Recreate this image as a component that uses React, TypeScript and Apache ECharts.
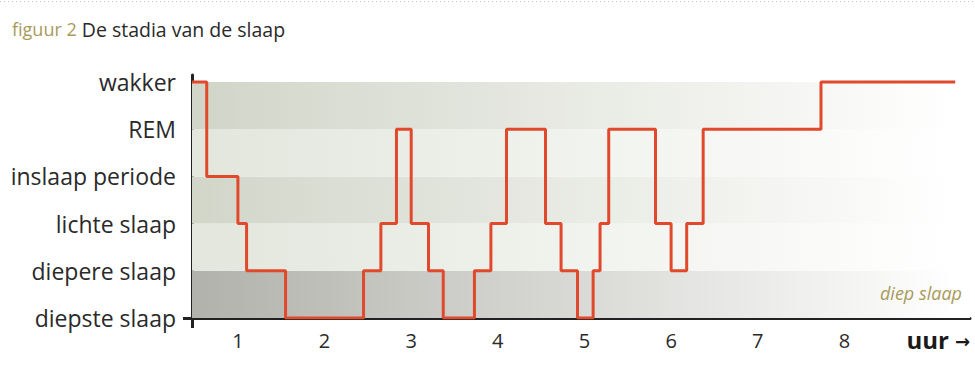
import React, { useEffect, useRef } from "react";
import * as echarts from "echarts";

// Sleep stages (0 = diepste slaap ... 5 = wakker)
const stageNames = ["diepste slaap", "diepere slaap", "lichte slaap", "inslaap periode", "REM", "wakker"];
const stageTicks = [0, 1, 2, 3, 4, 5];
const hourTicks = [1, 2, 3, 4, 5, 6, 7, 8];

// Step line: time (hours) at which each stage begins
const hours = [0.47, 0.64, 1.0, 1.1, 1.55, 2.45, 2.65, 2.83, 3.0, 3.2, 3.37, 3.73, 3.92, 4.1, 4.55, 4.73, 4.92, 5.1, 5.18, 5.28, 5.82, 6.0, 6.18, 6.37, 7.73, 9.28];
const stages = [5, 3, 2, 1, 0, 1, 2, 4, 2, 1, 0, 1, 2, 4, 2, 1, 0, 1, 2, 4, 2, 1, 2, 4, 5, 5];

// Background bands (bottom to top)
const bandColors = ["#b2b2ac", "#e2e6dc", "#d2d6c9", "#e2e6dc", "#d1d5c8"];

const xMin = 0.47;
const xMax = 9.45;
const yMax = 5.148;

const FONT = "Open Sans";

export default function App() {
  const ref = useRef<HTMLDivElement>(null);
  useEffect(() => {
    if (!ref.current) return;
    const chart = echarts.init(ref.current, null, { renderer: "svg" });
    const data = hours.map((h, i) => [h, stages[i]]);
    const bands = bandColors.map((c, i) => [
      {
        yAxis: i,
        xAxis: xMin,
        itemStyle: {
          color: {
            type: "linear",
            x: 0,
            y: 0,
            x2: 1,
            y2: 0,
            colorStops: [
              { offset: 0, color: c },
              { offset: 0.985, color: "#ffffff" },
              { offset: 1, color: "#ffffff" },
            ],
          },
        },
      },
      { yAxis: i + 1, xAxis: xMax },
    ]);
    chart.setOption({
      animation: false,
      backgroundColor: "#ffffff",
      title: {
        left: 7,
        top: 14,
        text: "{a|figuur 2} {b|De stadia van de slaap}",
        textStyle: {
          rich: {
            a: { fontFamily: FONT, fontSize: 18, fontWeight: "normal", color: "#a89a5a" },
            b: { fontFamily: FONT, fontSize: 19.5, fontWeight: "normal", color: "#2a2a2a" },
          },
        },
      },
      graphic: [
        {
          type: "line",
          z: 100,
          shape: { x1: 0, y1: 1.5, x2: 975, y2: 1.5 },
          style: { stroke: "#c8c8c8", lineWidth: 1, lineDash: [1, 3] },
        },
        {
          type: "text",
          z: 100,
          right: 13,
          top: 284,
          style: {
            text: "diep slaap",
            fontFamily: FONT,
            fontStyle: "italic",
            fontSize: 18,
            fill: "#a89a5a",
          },
        },
        {
          type: "text",
          z: 100,
          right: 26,
          top: 327,
          style: {
            text: "uur",
            fontFamily: FONT,
            fontWeight: "bold",
            fontSize: 24,
            fill: "#1a1a1a",
          },
        },
        {
          type: "text",
          z: 100,
          right: 5,
          top: 332,
          style: {
            text: "→",
            fontFamily: "DejaVu Sans",
            fontWeight: "bold",
            fontSize: 18,
            fill: "#1a1a1a",
          },
        },
      ],
      grid: { left: 192, right: 5, top: 75, bottom: 51, containLabel: false },
      xAxis: {
        type: "value",
        min: xMin,
        max: xMax,
        axisLine: { show: true, onZero: false, lineStyle: { color: "#222222", width: 3 } },
        axisTick: { show: true, customValues: [xMin], length: 10, lineStyle: { color: "#222222", width: 3 } },
        axisLabel: {
          customValues: hourTicks,
          fontFamily: FONT,
          fontSize: 20,
          color: "#2a2a2a",
          margin: 12,
        },
        splitLine: { show: false },
      },
      yAxis: {
        type: "value",
        min: 0,
        max: yMax,
        axisLine: { show: true, lineStyle: { color: "#222222", width: 3 } },
        axisTick: { show: true, customValues: [0], length: 9, lineStyle: { color: "#222222", width: 3 } },
        axisLabel: {
          customValues: stageTicks,
          formatter: (v: number) => stageNames[Math.round(v)] ?? "",
          fontFamily: FONT,
          fontSize: 23,
          color: "#2a2a2a",
          margin: 16,
        },
        splitLine: { show: false },
      },
      series: [
        {
          type: "line",
          step: "end",
          data,
          symbol: "none",
          lineStyle: { color: "#e0492b", width: 3 },
          z: 5,
          markArea: {
            silent: true,
            data: bands,
          },
        },
      ],
    });
    return () => chart.dispose();
  }, []);
  return <div ref={ref} style={{ position: "fixed", left: 0, top: 0, width: 975, height: 369 }} />;
}
